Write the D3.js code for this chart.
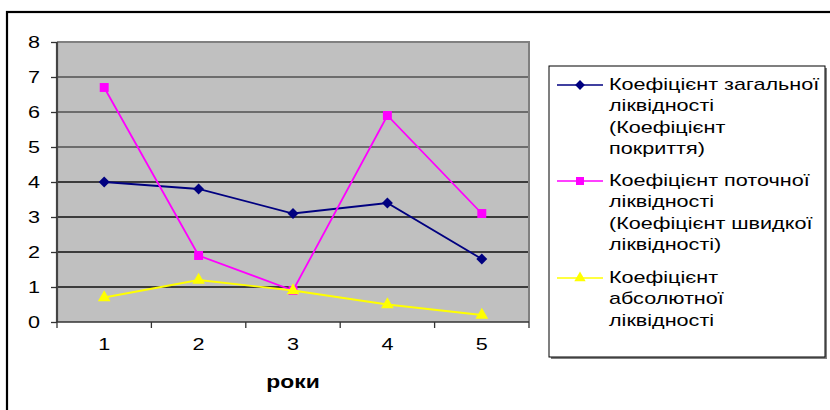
<!DOCTYPE html>
<html><head><meta charset="utf-8">
<script src="https://cdn.jsdelivr.net/npm/d3@7"></script>
<style>body{margin:0;background:#fff}svg{display:block}</style>
</head><body>
<svg id="c" width="830" height="410"></svg>
<script>
const categories = ["1","2","3","4","5"];
const yTicks = [0,1,2,3,4,5,6,7,8];
const seriesNames = [
  ["Коефіцієнт загальної","ліквідності","(Коефіцієнт","покриття)"],
  ["Коефіцієнт поточної","ліквідності","(Коефіцієнт швидкої","ліквідності)"],
  ["Коефіцієнт","абсолютної","ліквідності"]
];
const totalLiquidity = [4.0, 3.8, 3.1, 3.4, 1.8];
const currentLiquidity = [6.7, 1.9, 0.9, 5.9, 3.1];
const absoluteLiquidity = [0.7, 1.2, 0.9, 0.5, 0.2];
const xTitle = "роки";

const diamond = {draw(ctx, size){ const r=Math.sqrt(size/2); ctx.moveTo(0,-r); ctx.lineTo(r,0); ctx.lineTo(0,r); ctx.lineTo(-r,0); ctx.closePath(); }};
const series = [
  {values: totalLiquidity, color: "#000080", sym: diamond, size: 60},
  {values: currentLiquidity, color: "#FF00FF", sym: d3.symbolSquare, size: 80},
  {values: absoluteLiquidity, color: "#FFFF00", sym: d3.symbolTriangle, size: 70}
];

const SX = 1.27; // horizontal text stretch seen in the reference
const svg = d3.select("#c");
const font = "Liberation Sans, Arial, sans-serif";
// outer frame
svg.append("rect").attr("x",7).attr("y",12).attr("width",830).attr("height",420)
  .attr("fill","#fff").attr("stroke","#000").attr("stroke-width",2.2);

const L=57, R=529, T=42, B=322;
const x = d3.scaleBand().domain(categories).range([L,R]);
const y = d3.scaleLinear().domain([0,8]).range([B,T]);

svg.append("rect").attr("x",L).attr("y",T).attr("width",R-L).attr("height",B-T).attr("fill","#C0C0C0");
// gridlines
svg.append("g").selectAll("line").data(yTicks.slice(1)).join("line")
  .attr("x1",L).attr("x2",R).attr("y1",d=>y(d)).attr("y2",d=>y(d))
  .attr("stroke",d=>d>=5?"#505050":"#111").attr("stroke-width",1.3);
// plot border top/right
svg.append("path").attr("d",`M${L},${T}H${R}V${B}`).attr("fill","none").attr("stroke","#808080").attr("stroke-width",2);

// y axis
const ya = svg.append("g").attr("transform",`translate(${L},0)`)
  .call(d3.axisLeft(y).tickValues(yTicks).tickSize(6).tickPadding(8).tickFormat(d3.format("d")));
ya.selectAll(".domain").attr("stroke","#444").attr("stroke-width",2.2).attr("d",`M0,${T}V${B}`);
ya.selectAll(".tick line").attr("stroke","#333").attr("stroke-width",1.3);
ya.selectAll("text").attr("font-family",font).attr("font-size",17).attr("fill","#000")
  .attr("x",-17/SX).attr("transform",`scale(${SX},1)`);

// x axis
const xa = svg.append("g").attr("transform",`translate(0,${B})`)
  .call(d3.axisBottom(x).tickSize(0).tickPadding(16));
xa.select(".domain").attr("stroke","#333").attr("stroke-width",1.5).attr("d",`M${L},0H${R}`);
xa.selectAll("text").attr("font-family",font).attr("font-size",17).attr("fill","#000")
  .attr("transform",`scale(${SX},1)`);
svg.append("g").selectAll("line").data(categories.map(c=>x(c)).concat([R])).join("line")
  .attr("x1",d=>d).attr("x2",d=>d).attr("y1",B).attr("y2",B+6).attr("stroke","#333").attr("stroke-width",1.3);

svg.append("text").attr("transform",`translate(${(L+R)/2},388) scale(${SX},1)`).attr("text-anchor","middle")
  .attr("font-family",font).attr("font-size",18).attr("font-weight","bold").text(xTitle);

const cx = c => x(c) + x.bandwidth()/2;
const line = d3.line().x((d,i)=>cx(categories[i])).y(d=>y(d));
series.forEach(s=>{
  svg.append("path").attr("d",line(s.values)).attr("fill","none").attr("stroke",s.color).attr("stroke-width",1.8);
  svg.append("g").selectAll("path").data(s.values).join("path")
    .attr("transform",(d,i)=>`translate(${cx(categories[i])},${y(d)})`)
    .attr("d",d3.symbol().type(s.sym).size(s.size)).attr("fill",s.color);
});

// legend
svg.append("rect").attr("x",551).attr("y",68).attr("width",276).attr("height",291).attr("fill","#808080");
svg.append("rect").attr("x",549).attr("y",66).attr("width",276).attr("height",291).attr("fill","#fff").attr("stroke","#000").attr("stroke-width",1);
const starts = [85, 181, 278];
series.forEach((s,k)=>{
  const yy = starts[k];
  svg.append("line").attr("x1",557).attr("x2",603).attr("y1",yy).attr("y2",yy).attr("stroke",s.color).attr("stroke-width",1.6);
  svg.append("path").attr("transform",`translate(580,${yy})`).attr("d",d3.symbol().type(s.sym).size(s.size*0.8)).attr("fill",s.color);
  const t = svg.append("text").attr("transform",`translate(609,0) scale(${SX},1)`)
    .attr("font-family",font).attr("font-size",17).attr("fill","#000");
  seriesNames[k].forEach((ln,j)=>{
    t.append("tspan").attr("x",0).attr("y",yy+5+j*21.5).text(ln);
  });
});
</script>
</body></html>
